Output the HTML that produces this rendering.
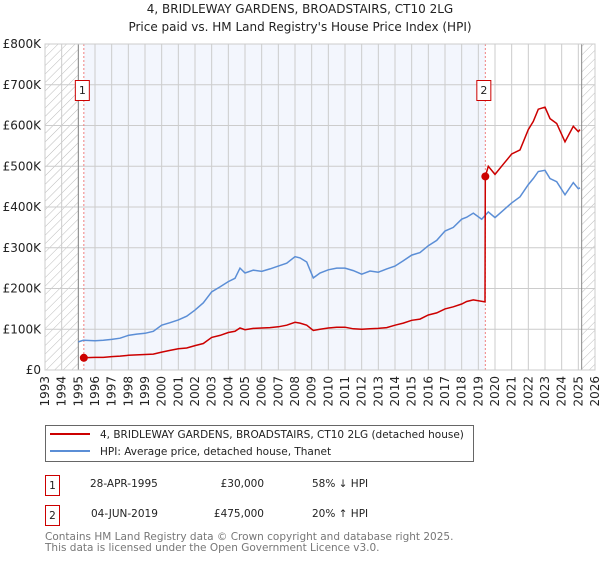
<!DOCTYPE html>
<html><head><meta charset="utf-8"><style>
body{margin:0;background:#fff;width:600px;height:560px;overflow:hidden;font-family:"DejaVu Sans","Liberation Sans",sans-serif;}
svg text{font-family:"DejaVu Sans","Liberation Sans",sans-serif;}
</style></head><body>
<svg id="chart" width="600" height="560" xmlns="http://www.w3.org/2000/svg">
<defs>
<pattern id="hatch" width="6" height="6" patternUnits="userSpaceOnUse" patternTransform="rotate(45)">
<line x1="0" y1="0" x2="0" y2="6" stroke="#bbb" stroke-width="1"/>
</pattern>
</defs>
<text x="300" y="13" text-anchor="middle" font-size="12" fill="#222">4, BRIDLEWAY GARDENS, BROADSTAIRS, CT10 2LG</text>
<text x="300" y="31" text-anchor="middle" font-size="12" fill="#222">Price paid vs. HM Land Registry's House Price Index (HPI)</text>
<g id="plot"></g>
<g id="legend">
<rect x="45.5" y="425.5" width="428" height="36" fill="#fff" stroke="#666"/>
<line x1="50" y1="434" x2="90" y2="434" stroke="#cc0000" stroke-width="2"/>
<text x="100" y="438" font-size="10.5" fill="#222">4, BRIDLEWAY GARDENS, BROADSTAIRS, CT10 2LG (detached house)</text>
<line x1="50" y1="451" x2="90" y2="451" stroke="#5b8ed6" stroke-width="2"/>
<text x="100" y="455" font-size="10.5" fill="#222">HPI: Average price, detached house, Thanet</text>
</g>
<g font-size="10.5" fill="#222">
<rect x="45.5" y="475.5" width="14" height="20" fill="#fff" stroke="#cc0000"/>
<text x="52.5" y="489" text-anchor="middle">1</text>
<text x="90" y="487">28-APR-1995</text>
<text x="264" y="487" text-anchor="end">£30,000</text>
<text x="312" y="487">58% ↓ HPI</text>
</g>
<g font-size="10.5" fill="#222">
<rect x="45.5" y="505.5" width="14" height="20" fill="#fff" stroke="#cc0000"/>
<text x="52.5" y="519" text-anchor="middle">2</text>
<text x="91" y="517">04-JUN-2019</text>
<text x="264" y="517" text-anchor="end">£475,000</text>
<text x="312" y="517">20% ↑ HPI</text>
</g>
<text x="45" y="540" font-size="10.5" fill="#777">Contains HM Land Registry data © Crown copyright and database right 2025.</text>
<text x="45" y="551" font-size="10.5" fill="#777">This data is licensed under the Open Government Licence v3.0.</text>
</svg>
<script>
const yTicks=[0,100,200,300,400,500,600,700,800];
const yTickLabels=["£0","£100K","£200K","£300K","£400K","£500K","£600K","£700K","£800K"];
const xYears=[1993,1994,1995,1996,1997,1998,1999,2000,2001,2002,2003,2004,2005,2006,2007,2008,2009,2010,2011,2012,2013,2014,2015,2016,2017,2018,2019,2020,2021,2022,2023,2024,2025,2026];
const hpiT=[1995.0,1995.3,1996,1996.5,1997,1997.5,1998,1998.5,1999,1999.5,2000,2000.5,2001,2001.5,2002,2002.5,2003,2003.5,2004,2004.4,2004.7,2005,2005.5,2006,2006.5,2007,2007.5,2008,2008.3,2008.7,2009.1,2009.5,2010,2010.5,2011,2011.5,2012,2012.5,2013,2013.5,2014,2014.5,2015,2015.5,2016,2016.5,2017,2017.5,2018,2018.3,2018.7,2019.2,2019.6,2020,2020.5,2021,2021.5,2022,2022.3,2022.6,2023,2023.3,2023.7,2024.2,2024.7,2025.0,2025.1];
const hpiV=[69,73,72,73,75,78,85,88,90,95,110,116,123,132,147,165,192,204,217,225,250,238,245,242,248,255,262,278,275,265,226,238,246,250,250,244,235,243,240,248,255,268,282,288,305,318,341,350,370,375,385,370,388,374,392,410,425,455,470,487,490,470,462,430,460,445,447];
const prT=[1995.33,1996,1996.5,1997,1997.5,1998,1998.5,1999,1999.5,2000,2000.5,2001,2001.5,2002,2002.5,2003,2003.5,2004,2004.4,2004.7,2005,2005.5,2006,2006.5,2007,2007.5,2008,2008.3,2008.7,2009.1,2009.5,2010,2010.5,2011,2011.5,2012,2012.5,2013,2013.5,2014,2014.5,2015,2015.5,2016,2016.5,2017,2017.5,2018,2018.3,2018.7,2019.4,2019.42,2019.6,2020,2020.5,2021,2021.5,2022,2022.3,2022.6,2023,2023.3,2023.7,2024.2,2024.7,2025.0,2025.1];
const prV=[30,31,31,33,34,36,37,38,39,44,48,52,54,60,65,80,85,92,95,103,99,102,103,104,106,110,117,115,110,97,100,103,105,105,101,100,101,102,104,110,115,122,125,135,140,150,155,162,168,172,167,475,500,480,505,530,540,590,610,640,645,617,605,560,598,585,590];
const saleT=[1995.33,2019.42];
const saleV=[30,475];
const saleLabels=["1","2"];

const NS="http://www.w3.org/2000/svg";
const X0=45,X1=595,Y0=370,Y1=44;
const xs=t=>X0+(t-1993)*(X1-X0)/33;
const ys=v=>Y0-v*(Y0-Y1)/800;
const g=document.getElementById('plot');
function mk(tag,attrs){const e=document.createElementNS(NS,tag);for(const k in attrs)e.setAttribute(k,attrs[k]);g.appendChild(e);return e;}

let bg=mk('rect',{x:xs(saleT[0]),y:Y1,width:xs(saleT[1])-xs(saleT[0]),height:Y0-Y1,fill:'#f3f6fd'});


let h1=mk('rect',{x:X0,y:Y1,width:xs(1995)-X0,height:Y0-Y1,fill:'url(#hatch)'});


let h2=mk('rect',{x:xs(2025.2),y:Y1,width:X1-xs(2025.2),height:Y0-Y1,fill:'url(#hatch)'});



yTicks.forEach((v,i)=>{
 let l=mk('line',{x1:X0,x2:X1,y1:ys(v),y2:ys(v),stroke:'#ccc','stroke-width':1});
 
 
 let t=mk('text',{x:X0-4,y:ys(v)+4,'text-anchor':'end','font-size':12,fill:'#222'});
 t.textContent=yTickLabels[i];
 
 
});
xYears.forEach(yr=>{
 let l=mk('line',{x1:xs(yr),x2:xs(yr),y1:Y1,y2:Y0,stroke:'#ccc','stroke-width':1});
 
 
 let t=mk('text',{x:0,y:0,'text-anchor':'end','font-size':12,fill:'#222',transform:`translate(${xs(yr)+4},${Y0+6}) rotate(-90)`});
 t.textContent=yr;
 
 
});
[1995,2025.2].forEach(t=>{
 let l=mk('line',{x1:xs(t),x2:xs(t),y1:Y1,y2:Y0,stroke:'#888','stroke-width':1});
 
 
});
saleT.forEach((t,i)=>{
 let l=mk('line',{x1:xs(t),x2:xs(t),y1:Y1,y2:Y0,stroke:'#f08080','stroke-width':1,'stroke-dasharray':'2,2'});
 
 
});
const pts=(T,V)=>T.map((t,i)=>xs(t).toFixed(1)+','+ys(V[i]).toFixed(1)).join(' ');
let hl=mk('polyline',{points:pts(hpiT,hpiV),fill:'none',stroke:'#5b8ed6','stroke-width':1.5});


let pl=mk('polyline',{points:pts(prT,prV),fill:'none',stroke:'#cc0000','stroke-width':1.5});


saleT.forEach((t,i)=>{
 let c=mk('circle',{cx:xs(t),cy:ys(saleV[i]),r:4,fill:'#cc0000'});
 
 
 let r=mk('rect',{x:xs(t)-8.5,y:80.5,width:14,height:20,fill:'#fff',stroke:'#cc0000'});
 
 
 let tx=mk('text',{x:xs(t)-1.5,y:94,'text-anchor':'middle','font-size':11,fill:'#222'});
 tx.textContent=saleLabels[i];
 
 
});
let fr=mk('rect',{x:X0,y:Y1,width:X1-X0,height:Y0-Y1,fill:'none',stroke:'#ccc'});


</script>
</body></html>
